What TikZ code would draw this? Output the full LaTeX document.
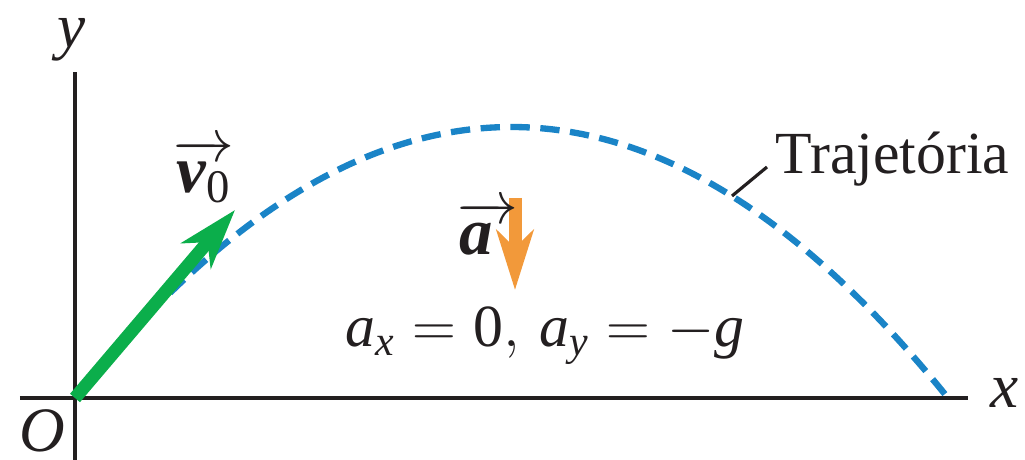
\documentclass[tikz,border=0pt]{standalone}
\usepackage{amsmath}
\usepackage{fontspec}
\setmainfont{Liberation Serif}
\usetikzlibrary{positioning,arrows.meta}
\definecolor{ink}{HTML}{231F20}
\definecolor{trajblue}{HTML}{1A84C7}
\definecolor{velgreen}{HTML}{0BAE4B}
\definecolor{accorange}{HTML}{F2993A}
\newcommand{\mi}[1]{\textit{#1}}
\newcommand{\bmi}[1]{\textbf{\textit{#1}}}

\tikzset{
  axis/.style={draw=ink,line width=0.9pt},
  vecarrow/.style={line width=3.7pt,-{Stealth[length=17pt,width=11pt,inset=5pt]}},
  lbl/.style={text=ink,inner sep=0pt,font=\fontsize{17}{20}\selectfont}
}

\begin{document}
\begin{tikzpicture}
        \useasboundingbox (-0.75,-0.62) rectangle (9.5,3.98);
        % axes
        \coordinate (O) at (0,0);
        \coordinate (xl) at (-0.55,0);
        \coordinate (xr) at (8.93,0);
        \coordinate (yb) at (0,-0.62);
        \coordinate (yt) at (0,3.26);
        \draw[axis] (xl) -- (xr);
        \draw[axis] (yb) -- (yt);
        \node[lbl,font=\fontsize{18}{20}\selectfont] (xlabel) at (9.30,0.05) {\mi{x}};
        \node[lbl,font=\fontsize{18}{20}\selectfont] (ylabel) at (-0.03,3.58) {\mi{y}};
        \node[lbl,font=\fontsize{18}{20}\selectfont] (Olabel) at (-0.33,-0.33) {\mi{O}};
        % trajectory
        \draw[trajblue,line width=1.8pt,dash pattern=on 5.5pt off 3pt]
          plot[domain=0.95:8.73,samples=80,smooth] (\x,{0.14223*\x*(8.73-\x)});
        \coordinate (tpt) at (6.57,2.02);
        \node[lbl,anchor=west] (trajlbl) at (7.0,2.39) {Trajetória};
        \coordinate (tend) at (6.92,2.31);
        \draw[ink,line width=0.9pt] (tpt) -- (tend);
        % velocity
        \coordinate (vtip) at (1.60,1.88);
        \draw[vecarrow,velgreen] (O) -- (vtip);
        \node[lbl,font=\fontsize{19}{20}\selectfont] (vlabel) at (1.29,2.27) {$\overrightarrow{\bmi{v}_{\text{0}}}$};
        % acceleration
        \coordinate (atop) at (4.40,2.00);
        \coordinate (abot) at (4.40,1.08);
        \draw[vecarrow,accorange,-{Stealth[length=17pt,width=10.5pt,inset=5pt]}] (atop) -- (abot);
        \node[lbl,font=\fontsize{19}{20}\selectfont] (alabel) at (4.13,1.70) {$\overrightarrow{\bmi{a}\kern7pt}$};
        \node[lbl] (aeq) at (4.70,0.62) {$\mi{a}_{\mi{x}} = \text{0},\, \mi{a}_{\mi{y}} = -\mi{g}$};
      \end{tikzpicture}
\end{document}
